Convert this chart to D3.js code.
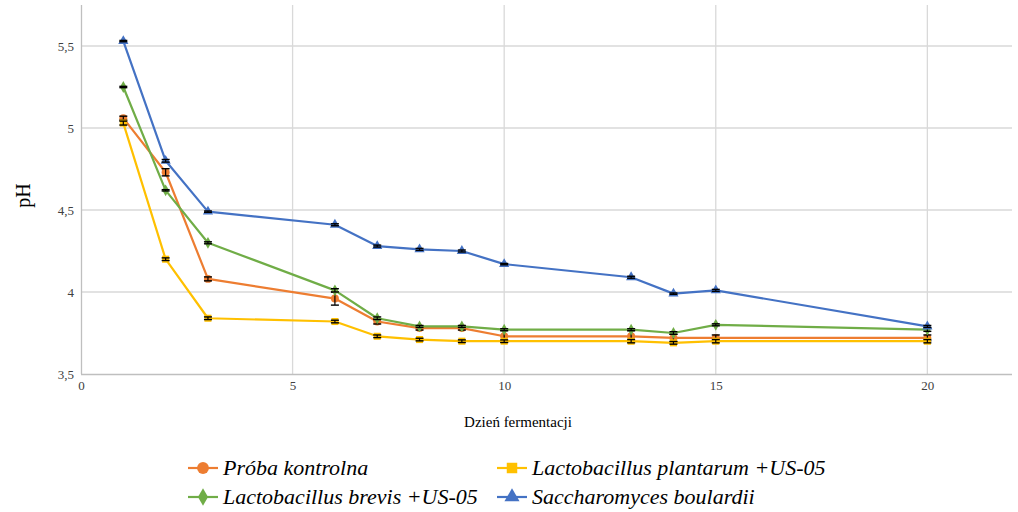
<!DOCTYPE html>
<html>
<head>
<meta charset="utf-8">
<script src="https://cdn.jsdelivr.net/npm/d3@7"></script>
<style>
  html, body { margin: 0; padding: 0; background: #fff; }
  svg { display: block; }
  svg text { font-family: "Liberation Serif", "DejaVu Serif", serif; }
</style>
</head>
<body>
<svg id="chart" width="1018" height="512"></svg>
<script>
// Fermentation day
const days = [1, 2, 3, 6, 7, 8, 9, 10, 13, 14, 15, 20];

// pH per series
const phKontrolna   = [5.06, 4.73, 4.08, 3.96, 3.82, 3.78, 3.78, 3.73, 3.73, 3.72, 3.72, 3.72];
const phPlantarum   = [5.03, 4.20, 3.84, 3.82, 3.73, 3.71, 3.70, 3.70, 3.70, 3.69, 3.70, 3.70];
const phBrevis      = [5.25, 4.62, 4.30, 4.01, 3.84, 3.79, 3.79, 3.77, 3.77, 3.75, 3.80, 3.77];
const phBoulardii   = [5.53, 4.80, 4.49, 4.41, 4.28, 4.26, 4.25, 4.17, 4.09, 3.99, 4.01, 3.79];

// Standard deviations
const sdKontrolna   = [0.012, 0.022, 0.012, 0.040, 0.015, 0.012, 0.012, 0.035, 0.035, 0.022, 0.018, 0.018];
const sdPlantarum   = [0.012, 0.008, 0.008, 0.008, 0.008, 0.008, 0.008, 0.008, 0.010, 0.008, 0.010, 0.010];
const sdBrevis      = [0.004, 0.004, 0.006, 0.010, 0.008, 0.006, 0.006, 0.006, 0.006, 0.008, 0.006, 0.010];
const sdBoulardii   = [0.004, 0.008, 0.004, 0.006, 0.006, 0.006, 0.006, 0.004, 0.006, 0.004, 0.006, 0.006];

const seriesNames  = ["Próba kontrolna", "Lactobacillus plantarum +US-05", "Lactobacillus brevis +US-05", "Saccharomyces boulardii"];
const seriesColors = ["#ED7D31", "#FFC000", "#70AD47", "#4472C4"];
const seriesMarks  = ["circle", "square", "diamond", "triangle"];

const xTicks = [0, 5, 10, 15, 20];
const yTicks = [3.5, 4, 4.5, 5, 5.5];

const yLabel = "pH";
const xLabel = "Dzień fermentacji";

const series = [
  { name: seriesNames[0], color: seriesColors[0], mark: seriesMarks[0], values: phKontrolna, sd: sdKontrolna },
  { name: seriesNames[1], color: seriesColors[1], mark: seriesMarks[1], values: phPlantarum, sd: sdPlantarum },
  { name: seriesNames[2], color: seriesColors[2], mark: seriesMarks[2], values: phBrevis,    sd: sdBrevis },
  { name: seriesNames[3], color: seriesColors[3], mark: seriesMarks[3], values: phBoulardii, sd: sdBoulardii }
];

const svg = d3.select("#chart");
const plot = { left: 81, right: 1012, top: 5, bottom: 374 };

const x = d3.scaleLinear().domain([0, 22]).range([plot.left, plot.right]);
const y = d3.scaleLinear().domain([3.5, 5.75]).range([plot.bottom, plot.top]);

const locale = d3.formatLocale({ decimal: ",", thousands: " ", grouping: [3], currency: ["", " zł"] });
const fmt = v => locale.format("~g")(v);

const serif = '"Liberation Serif", "DejaVu Serif", serif';
const gridColor = "#d9d9d9";

// Grid
const grid = svg.append("g");
grid.selectAll("line.h").data(yTicks.filter(t => t > 3.5)).join("line")
  .attr("x1", plot.left).attr("x2", plot.right)
  .attr("y1", d => y(d)).attr("y2", d => y(d))
  .attr("stroke", gridColor).attr("stroke-width", 1.3);
grid.selectAll("line.v").data(xTicks.filter(t => t > 0)).join("line")
  .attr("x1", d => x(d)).attr("x2", d => x(d))
  .attr("y1", plot.top).attr("y2", plot.bottom)
  .attr("stroke", gridColor).attr("stroke-width", 1.3);

// Axes
const xAxis = svg.append("g").attr("transform", `translate(0,${plot.bottom})`)
  .call(d3.axisBottom(x).tickValues(xTicks).tickFormat(fmt).tickSize(0).tickPadding(7));
const yAxis = svg.append("g").attr("transform", `translate(${plot.left},0)`)
  .call(d3.axisLeft(y).tickValues(yTicks).tickFormat(fmt).tickSize(0).tickPadding(7));
[xAxis, yAxis].forEach(a => {
  a.attr("font-family", null).attr("font-size", null);
  a.select(".domain").attr("stroke", "#bfbfbf").attr("stroke-width", 1.3);
  a.selectAll("text").style("font-family", serif).style("font-size", "13px").attr("fill", "#404040");
});
xAxis.select(".domain").attr("d", `M${plot.left},0.5H${plot.right}`);
yAxis.select(".domain").attr("d", `M0.5,${plot.top}V${plot.bottom}`);

// Axis titles
svg.append("text")
  .attr("transform", `translate(30,${(y(3.5) + y(5.75)) / 2 + 6}) rotate(-90)`)
  .attr("text-anchor", "middle")
  .style("font-family", serif).style("font-size", "20px").attr("fill", "#000")
  .text(yLabel);
svg.append("text")
  .attr("x", 518).attr("y", 427)
  .attr("text-anchor", "middle")
  .style("font-family", serif).style("font-size", "15px").attr("fill", "#000")
  .text(xLabel);

// Marker shapes
const symbolType = { circle: d3.symbolCircle, square: d3.symbolSquare, diamond: d3.symbolDiamond, triangle: d3.symbolTriangle };
const symbolSize = { circle: 50, square: 50, diamond: 40, triangle: 45 };

const line = d3.line().x(d => x(d.day)).y(d => y(d.v));

series.forEach(s => {
  const pts = days.map((d, i) => ({ day: d, v: s.values[i], sd: s.sd[i] }));
  const g = svg.append("g");
  g.append("path").datum(pts)
    .attr("d", line).attr("fill", "none")
    .attr("stroke", s.color).attr("stroke-width", 2.2).attr("stroke-linejoin", "round");
  g.selectAll("path.m").data(pts).join("path")
    .attr("transform", d => `translate(${x(d.day)},${y(d.v)})`)
    .attr("d", d3.symbol(symbolType[s.mark], symbolSize[s.mark]))
    .attr("fill", s.color);
  // Error bars
  const eb = g.selectAll("g.eb").data(pts).join("g");
  eb.append("line")
    .attr("x1", d => x(d.day)).attr("x2", d => x(d.day))
    .attr("y1", d => y(d.v - d.sd)).attr("y2", d => y(d.v + d.sd))
    .attr("stroke", "#000").attr("stroke-width", 1.2);
  [-1, 1].forEach(k => {
    eb.append("line")
      .attr("x1", d => x(d.day) - 4).attr("x2", d => x(d.day) + 4)
      .attr("y1", d => y(d.v + k * d.sd)).attr("y2", d => y(d.v + k * d.sd))
      .attr("stroke", "#000").attr("stroke-width", 1.4);
  });
});

// Legend
const legendPos = [
  { x: 188, y: 468 }, { x: 497, y: 468 },
  { x: 188, y: 497 }, { x: 497, y: 497 }
];
series.forEach((s, i) => {
  const p = legendPos[i];
  const g = svg.append("g").attr("transform", `translate(${p.x},${p.y})`);
  g.append("line").attr("x1", 0).attr("x2", 30).attr("y1", 0).attr("y2", 0)
    .attr("stroke", s.color).attr("stroke-width", 2.2);
  g.append("path").attr("transform", "translate(15,0)")
    .attr("d", d3.symbol(symbolType[s.mark], symbolSize[s.mark] * 2.2)).attr("fill", s.color);
  g.append("text").attr("x", 35).attr("y", 7)
    .style("font-family", serif).style("font-style", "italic").style("font-size", "22px").attr("fill", "#000")
    .text(s.name);
});
</script>
</body>
</html>
